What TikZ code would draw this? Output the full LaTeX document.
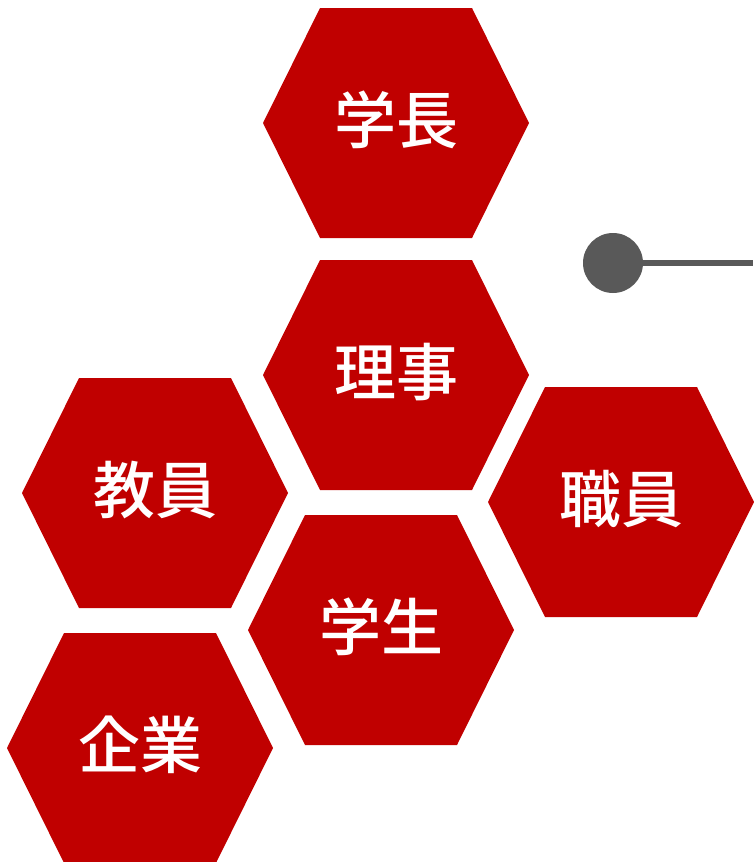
\documentclass[tikz,border=0pt]{standalone}
\usepackage{fontspec}
\newfontfamily\cjk{Noto Sans CJK JP Medium}
\definecolor{hexred}{HTML}{C00000}
\definecolor{dotgray}{HTML}{595959}
\tikzset{
  hexlabel/.style={text=white,font=\cjk\fontsize{62}{64}\selectfont,inner sep=0pt},
  hexfill/.style={fill=hexred}
}
\begin{document}
\begin{tikzpicture}[x=1pt,y=-1pt]
  \useasboundingbox (0,0) rectangle (753,862);
  \foreach \name/\cx/\cy/\txt in {gakucho/396/123/学長, riji/396/375/理事,
      kyoin/155/493/教員, shokuin/621/502/職員, gakusei/381/630/学生, kigyo/140/748/企業} {
    \fill[hexfill] (\cx-133,\cy) -- (\cx-76,\cy-115) -- (\cx+76,\cy-115)
      -- (\cx+133,\cy) -- (\cx+76,\cy+115) -- (\cx-76,\cy+115) -- cycle;
    \node[hexlabel] (\name) at (\cx,\cy-3) {\txt};
  }
  \node[circle,fill=dotgray,minimum size=60pt,inner sep=0pt] (dot) at (613,263) {};
  \coordinate (lineend) at (753,263);
  \draw[dotgray,line width=6.5pt] (dot) -- (lineend);
\end{tikzpicture}
\end{document}
